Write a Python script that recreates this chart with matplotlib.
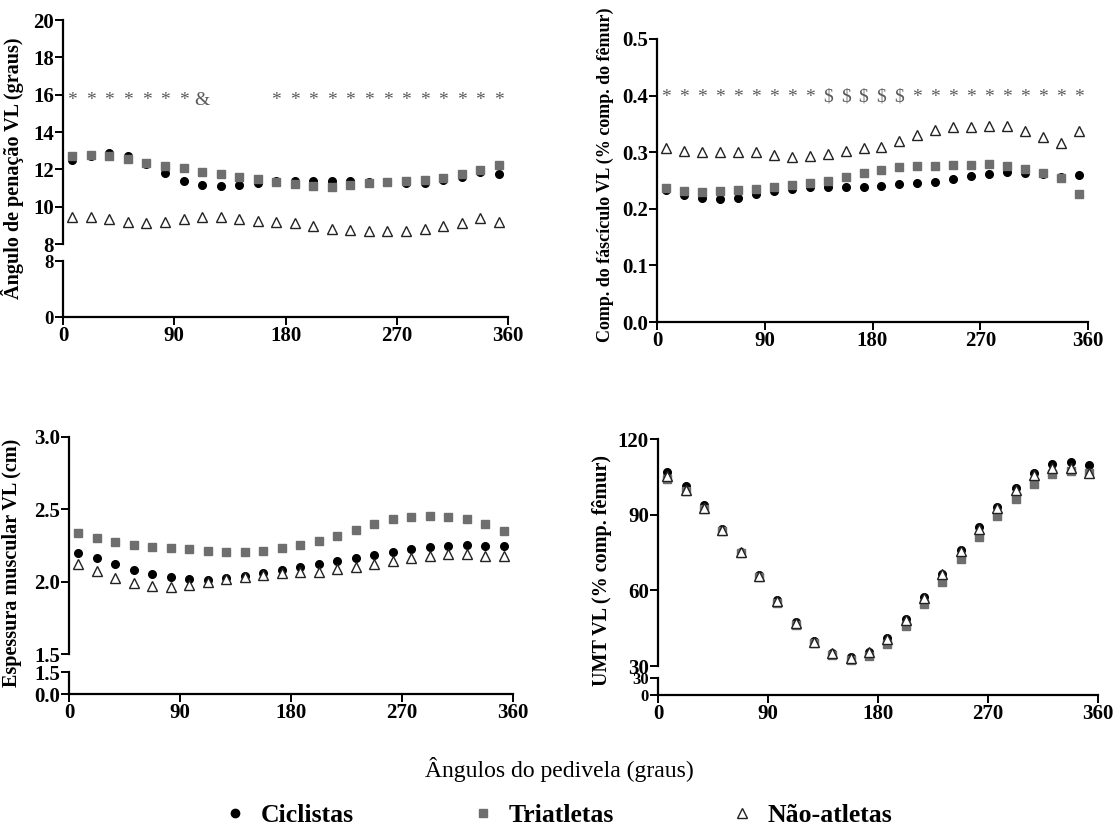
import matplotlib
matplotlib.use("Agg")
import matplotlib.pyplot as plt
from matplotlib.lines import Line2D

plt.rcParams['font.family'] = ['Liberation Serif', 'DejaVu Serif']
plt.rcParams['font.weight'] = 'bold'

angles = [7.5, 22.5, 37.5, 52.5, 67.5, 82.5, 97.5, 112.5, 127.5, 142.5, 157.5, 172.5,
          187.5, 202.5, 217.5, 232.5, 247.5, 262.5, 277.5, 292.5, 307.5, 322.5, 337.5, 352.5]
xticks = [0, 90, 180, 270, 360]

# angulo de penacao (graus)
pen_cic = [12.5, 12.7, 12.86, 12.7, 12.3, 11.79, 11.38, 11.16, 11.1, 11.16, 11.29, 11.35,
           11.4, 11.39, 11.39, 11.39, 11.34, 11.3, 11.25, 11.25, 11.43, 11.61, 11.84, 11.73]
pen_tri = [12.73, 12.75, 12.7, 12.54, 12.36, 12.2, 12.05, 11.88, 11.73, 11.61, 11.48, 11.34,
           11.21, 11.13, 11.06, 11.18, 11.27, 11.34, 11.39, 11.43, 11.55, 11.75, 11.96, 12.23]
pen_nao = [9.47, 9.45, 9.32, 9.16, 9.11, 9.16, 9.34, 9.43, 9.43, 9.34, 9.23, 9.16,
           9.1, 8.97, 8.83, 8.75, 8.71, 8.72, 8.72, 8.79, 8.97, 9.14, 9.38, 9.2]
pen_sig = ['*', '*', '*', '*', '*', '*', '*', '&', '', '', '', '*',
           '*', '*', '*', '*', '*', '*', '*', '*', '*', '*', '*', '*']

# comprimento do fasciculo (% comp. do femur)
fas_cic = [0.233, 0.225, 0.219, 0.217, 0.219, 0.226, 0.232, 0.235, 0.238, 0.239, 0.239, 0.239,
           0.24, 0.243, 0.245, 0.248, 0.252, 0.258, 0.262, 0.265, 0.264, 0.262, 0.256, 0.259]
fas_tri = [0.236, 0.232, 0.23, 0.232, 0.233, 0.235, 0.239, 0.242, 0.246, 0.25, 0.256, 0.263,
           0.269, 0.274, 0.275, 0.276, 0.277, 0.278, 0.279, 0.276, 0.27, 0.263, 0.255, 0.227]
fas_nao = [0.307, 0.302, 0.3, 0.3, 0.3, 0.3, 0.295, 0.292, 0.293, 0.297, 0.302, 0.307,
           0.31, 0.319, 0.331, 0.34, 0.344, 0.345, 0.346, 0.346, 0.338, 0.326, 0.316, 0.337]
fas_sig = ['*', '*', '*', '*', '*', '*', '*', '*', '*', '$', '$', '$',
           '$', '$', '*', '*', '*', '*', '*', '*', '*', '*', '*', '*']

# espessura muscular (cm)
esp_cic = [2.2, 2.161, 2.122, 2.083, 2.053, 2.03, 2.016, 2.014, 2.023, 2.039, 2.062, 2.083,
           2.103, 2.122, 2.143, 2.166, 2.184, 2.205, 2.225, 2.24, 2.25, 2.255, 2.245, 2.25]
esp_tri = [2.333, 2.303, 2.274, 2.253, 2.241, 2.234, 2.228, 2.214, 2.202, 2.202, 2.211, 2.23,
           2.253, 2.28, 2.317, 2.356, 2.398, 2.432, 2.45, 2.455, 2.45, 2.43, 2.4, 2.35]
esp_nao = [2.122, 2.076, 2.028, 1.989, 1.972, 1.966, 1.977, 1.995, 2.016, 2.032, 2.046, 2.057,
           2.064, 2.069, 2.085, 2.103, 2.122, 2.143, 2.165, 2.18, 2.19, 2.19, 2.18, 2.18]

# UMT (% comp. femur)
umt_cic = [106.9, 101.2, 93.8, 84.5, 75.3, 66.0, 56.0, 47.5, 40.0, 35.0, 33.5, 35.5,
           41.0, 48.5, 57.5, 66.5, 76.0, 85.0, 93.0, 100.5, 106.5, 110.0, 111.0, 109.5]
umt_tri = [104.1, 99.2, 92.2, 83.6, 74.7, 65.2, 55.1, 46.4, 39.2, 34.3, 32.3, 34.0,
           38.9, 46.0, 54.4, 63.2, 72.3, 81.1, 89.3, 96.3, 102.3, 106.1, 107.2, 106.5]
umt_nao = [105.2, 99.9, 92.8, 84.0, 75.1, 65.7, 55.8, 46.9, 39.6, 35.0, 33.2, 35.6,
           40.9, 48.2, 57.1, 66.4, 75.6, 84.4, 92.6, 99.9, 105.6, 108.5, 108.7, 106.5]

W, H = 1115, 834
fig = plt.figure(figsize=(W / 100, H / 100), dpi=100)


def box(left, right, top, bottom):
    return [left / W, 1 - bottom / H, (right - left) / W, (bottom - top) / H]


def style(ax, sides):
    for s in ['left', 'right', 'top', 'bottom']:
        ax.spines[s].set_visible(s in sides)
        ax.spines[s].set_linewidth(1.6)
    ax.tick_params(direction='out', length=5.5, width=1.4, labelsize=15, pad=1)
    ax.set_xlim(0, 360)
    ax.patch.set_alpha(0)


def draw_points(ax, cic, tri, nao):
    ax.plot(angles, cic, 'o', color='black', ms=5.5, clip_on=False, zorder=3)
    ax.plot(angles, tri, 's', color='#6e6e6e', ms=5.5, clip_on=False, zorder=4)
    ax.plot(angles, nao, '^', mfc='white', mec='#222222', mew=1.0, ms=6.5,
            clip_on=False, zorder=5)


def broken(pos_up, pos_low, up_lim, up_ticks, up_labels, low_lim, low_labels, low_size):
    up = fig.add_axes(box(*pos_up))
    low = fig.add_axes(box(*pos_low))
    style(up, ['left'])
    style(low, ['left', 'bottom'])
    up.set_ylim(*up_lim)
    up.set_yticks(up_ticks)
    up.set_yticklabels(up_labels)
    up.set_xticks([])
    low.set_ylim(*low_lim)
    low.set_yticks(low_lim)
    low.set_yticklabels(low_labels)
    low.tick_params(axis='y', labelsize=low_size)
    low.set_xticks(xticks)
    return up, low


def signs(ax, sig, level):
    for a, s in zip(angles, sig):
        if s:
            ax.text(a, level, s, ha='center', va='center', fontsize=14,
                    fontweight='normal', color='#5a5a5a', parse_math=False)


# painel 1
ax1, ax1b = broken((63, 508, 20, 244), (63, 508, 261, 317), (8, 20),
                   [8, 10, 12, 14, 16, 18, 20], ['8', '10', '12', '14', '16', '18', '20'],
                   (0, 8), ['0', '8'], 13.5)
draw_points(ax1, pen_cic, pen_tri, pen_nao)
signs(ax1, pen_sig, 15.7)
ax1.set_ylabel('Ângulo de penação VL (graus)', fontsize=14.5, fontweight='bold')
ax1.yaxis.set_label_coords(-0.088, 0.34)

# painel 2
ax2 = fig.add_axes(box(657, 1088, 39, 322))
style(ax2, ['left', 'bottom'])
draw_points(ax2, fas_cic, fas_tri, fas_nao)
signs(ax2, fas_sig, 0.397)
ax2.set_ylim(0, 0.5)
ax2.set_yticks([0, 0.1, 0.2, 0.3, 0.4, 0.5])
ax2.set_yticklabels(['0.0', '0.1', '0.2', '0.3', '0.4', '0.5'])
ax2.set_xticks(xticks)
ax2.set_ylabel('Comp. do fáscículo VL (% comp. do fêmur)', fontsize=13, fontweight='bold')
ax2.yaxis.set_label_coords(-0.1, 0.52)

# painel 3
ax3, ax3b = broken((69, 513, 437, 654), (69, 513, 672, 694), (1.5, 3.0),
                   [1.5, 2.0, 2.5, 3.0], ['1.5', '2.0', '2.5', '3.0'],
                   (0, 1.5), ['0.0', '1.5'], 15)
draw_points(ax3, esp_cic, esp_tri, esp_nao)
ax3.set_ylabel('Espessura muscular VL (cm)', fontsize=14.5, fontweight='bold')
ax3.yaxis.set_label_coords(-0.105, 0.42)

# painel 4
ax4, ax4b = broken((658, 1098, 439, 666), (658, 1098, 678, 695), (30, 120),
                   [30, 60, 90, 120], ['30', '60', '90', '120'],
                   (0, 30), ['0', '30'], 12)
draw_points(ax4, umt_cic, umt_tri, umt_nao)
ax4.set_ylabel('UMT VL (% comp. fêmur)', fontsize=14.5, fontweight='bold')
ax4.yaxis.set_label_coords(-0.105, 0.42)

fig.text(0.502, 1 - 770 / H, 'Ângulos do pedivela (graus)', ha='center', va='center',
         fontsize=17, fontweight='normal')

handles = [Line2D([], [], ls='', marker='o', color='black', ms=6, label='Ciclistas'),
           Line2D([], [], ls='', marker='s', color='#6e6e6e', ms=5.5, label='Triatletas'),
           Line2D([], [], ls='', marker='^', mfc='white', mec='#222222', ms=6.5,
                  label='Não-atletas')]
fig.legend(handles=handles, loc='center', bbox_to_anchor=(0.5, 1 - 815 / H), ncol=3,
           frameon=False, prop={'weight': 'bold', 'size': 18.5}, handlelength=1.0,
           handletextpad=0.5, columnspacing=4.5)

fig.savefig('out.png', dpi=100)
